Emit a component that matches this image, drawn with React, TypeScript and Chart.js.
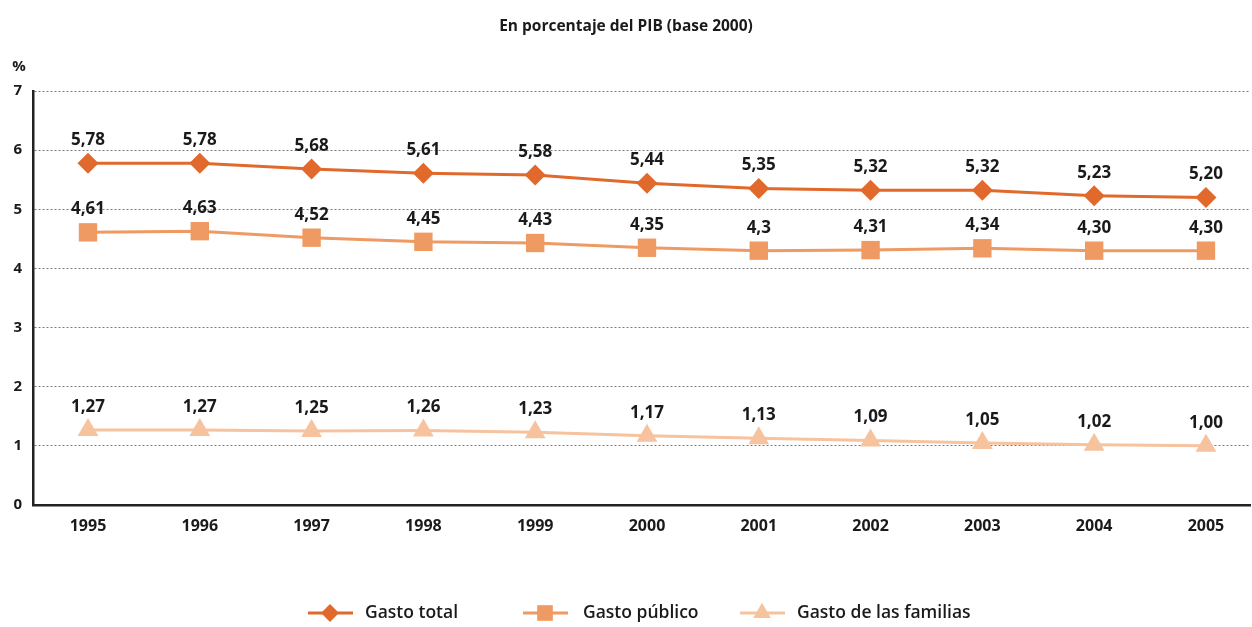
import React, { useEffect, useRef } from "react";
import { Chart, registerables } from "chart.js";

Chart.register(...registerables);

const years = [1995, 1996, 1997, 1998, 1999, 2000, 2001, 2002, 2003, 2004, 2005];
const gastoTotal = [5.78, 5.78, 5.68, 5.61, 5.58, 5.44, 5.35, 5.32, 5.32, 5.23, 5.2];
const gastoPublico = [4.61, 4.63, 4.52, 4.45, 4.43, 4.35, 4.3, 4.31, 4.34, 4.3, 4.3];
const gastoFamilias = [1.27, 1.27, 1.25, 1.26, 1.23, 1.17, 1.13, 1.09, 1.05, 1.02, 1.0];
const totalLabels = ["5,78", "5,78", "5,68", "5,61", "5,58", "5,44", "5,35", "5,32", "5,32", "5,23", "5,20"];
const publicoLabels = ["4,61", "4,63", "4,52", "4,45", "4,43", "4,35", "4,3", "4,31", "4,34", "4,30", "4,30"];
const familiasLabels = ["1,27", "1,27", "1,25", "1,26", "1,23", "1,17", "1,13", "1,09", "1,05", "1,02", "1,00"];
const yTicks = [0, 1, 2, 3, 4, 5, 6, 7];
const seriesNames = ["Gasto total", "Gasto público", "Gasto de las familias"];
const title = "En porcentaje del PIB (base 2000)";
const unit = "%";

const COLORS = ["#E0692B", "#EE9A62", "#F6C39E"];
const STYLES = ["rectRot", "rect", "triangle"];
const RADII = [10.5, 13, 12];
const FONT = "'Open Sans', 'DejaVu Sans', sans-serif";

function drawMarker(ctx: CanvasRenderingContext2D, style: string, x: number, y: number, r: number) {
  ctx.beginPath();
  if (style === "rectRot") {
    ctx.moveTo(x, y - r);
    ctx.lineTo(x + r, y);
    ctx.lineTo(x, y + r);
    ctx.lineTo(x - r, y);
  } else if (style === "rect") {
    const s = r * Math.SQRT1_2;
    ctx.rect(x - s, y - s, 2 * s, 2 * s);
  } else {
    ctx.moveTo(x, y - r);
    ctx.lineTo(x + r * 0.866, y + r * 0.5);
    ctx.lineTo(x - r * 0.866, y + r * 0.5);
  }
  ctx.closePath();
  ctx.fill();
}

const labelPlugin = {
  id: "customLabels",
  afterDatasetsDraw(chart: any) {
    const ctx = chart.ctx;
    const labelSets = [totalLabels, publicoLabels, familiasLabels];
    ctx.save();
    ctx.fillStyle = "#1a1a1a";
    ctx.font = `bold 17px ${FONT}`;
    ctx.textAlign = "center";
    ctx.textBaseline = "middle";
    chart.data.datasets.forEach((ds: any, i: number) => {
      const meta = chart.getDatasetMeta(i);
      meta.data.forEach((pt: any, j: number) => {
        ctx.fillText(labelSets[i][j], pt.x, pt.y - 23);
      });
    });
    ctx.restore();
  },
  afterDraw(chart: any) {
    const ctx = chart.ctx;
    ctx.save();
    ctx.fillStyle = "#1a1a1a";
    ctx.textBaseline = "middle";
    ctx.font = `bold 15.5px ${FONT}`;
    ctx.textAlign = "center";
    ctx.fillText(title, 626, 27);
    ctx.font = `bold 15px ${FONT}`;
    ctx.fillText(unit, 19, 67);
    const items = [
      { x: 308, tx: 365 },
      { x: 523, tx: 583 },
      { x: 740, tx: 797 },
    ];
    const y = 613;
    ctx.font = `600 17.5px ${FONT}`;
    ctx.textAlign = "left";
    items.forEach((it, i) => {
      ctx.strokeStyle = COLORS[i];
      ctx.lineWidth = 3;
      ctx.beginPath();
      ctx.moveTo(it.x, y);
      ctx.lineTo(it.x + 45, y);
      ctx.stroke();
      ctx.fillStyle = COLORS[i];
      drawMarker(ctx, STYLES[i], it.x + 22, y, RADII[i] * 0.85);
      ctx.fillStyle = "#1a1a1a";
      ctx.fillText(seriesNames[i], it.tx, y);
    });
    ctx.restore();
  },
};

export default function App() {
  const ref = useRef<HTMLCanvasElement>(null);
  useEffect(() => {
    document.body.style.margin = "0";
    const datasets = [gastoTotal, gastoPublico, gastoFamilias].map((vals, i) => ({
      label: seriesNames[i],
      data: years.map((yr, j) => ({ x: yr, y: vals[j] })),
      borderColor: COLORS[i],
      backgroundColor: COLORS[i],
      borderWidth: 3,
      pointStyle: STYLES[i] as any,
      pointRadius: RADII[i],
      pointBorderWidth: 0,
      pointBackgroundColor: COLORS[i],
      tension: 0,
    }));
    const chart = new Chart(ref.current!, {
      type: "line",
      data: { datasets },
      options: {
        animation: false,
        responsive: false,
        layout: { autoPadding: false, padding: { top: 91, right: 2, left: 0, bottom: 0 } },
        plugins: { legend: { display: false }, tooltip: { enabled: false }, title: { display: false } },
        scales: {
          x: {
            type: "linear",
            min: 1994.508,
            max: 2005.394,
            grid: { display: false, drawTicks: false },
            border: { display: true, color: "#222", width: 2.5 },
            afterBuildTicks: (scale: any) => {
              scale.ticks = years.map((v) => ({ value: v }));
            },
            afterFit: (scale: any) => {
              scale.height = 122;
              scale.paddingLeft = 0;
              scale.paddingRight = 0;
            },
            ticks: {
              padding: 12,
              autoSkip: false,
              maxRotation: 0,
              color: "#1a1a1a",
              font: { family: FONT, size: 16, weight: "bold" },
              callback: (v: any) => String(v),
            },
          },
          y: {
            min: 0,
            max: 7,
            afterBuildTicks: (scale: any) => {
              scale.ticks = yTicks.map((v) => ({ value: v }));
            },
            afterFit: (scale: any) => {
              scale.width = 33;
              scale.paddingTop = 0;
              scale.paddingBottom = 0;
            },
            grid: { color: "#7a7a7a", lineWidth: 1, drawTicks: false } as any,
            border: { display: true, color: "#222", width: 2.5, dash: [2, 2] } as any,
            ticks: {
              padding: 11,
              color: "#1a1a1a",
              font: { family: FONT, size: 15, weight: "bold" },
            },
          },
        },
      },
      plugins: [labelPlugin],
    });
    return () => chart.destroy();
  }, []);
  return <canvas ref={ref} width={1252} height={627} style={{ display: "block" }} />;
}
